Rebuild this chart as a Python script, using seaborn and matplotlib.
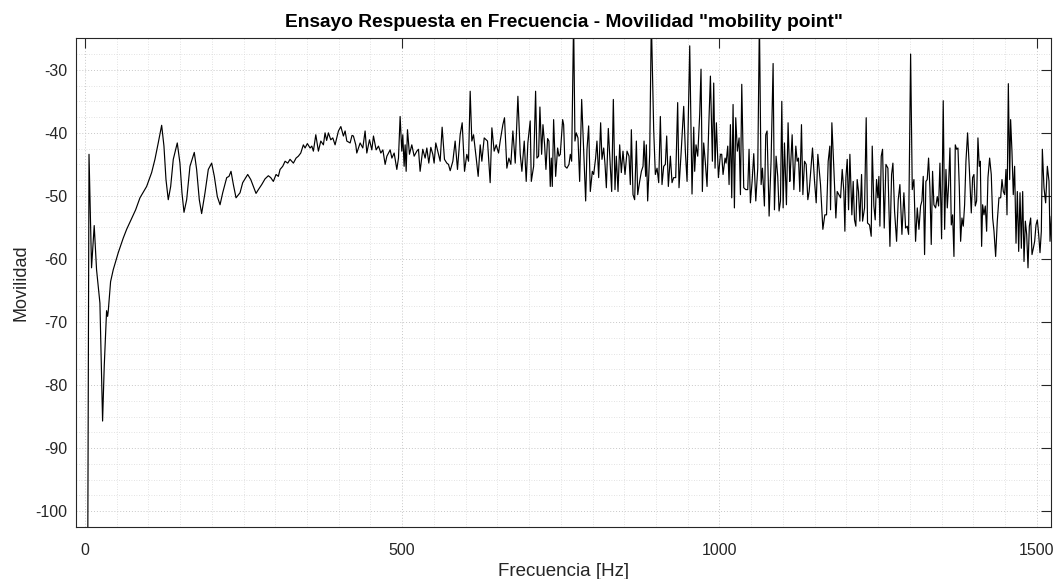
import numpy as np
import pandas as pd
import matplotlib
matplotlib.use("Agg")
import matplotlib.pyplot as plt
import seaborn as sns
from matplotlib.ticker import MultipleLocator

# ---------------- data ----------------
freq_low = [3.5, 6.5, 10.5, 14.7, 18.4, 23.7, 27.9, 30.5, 34.2, 35.8, 36.8, 40.5, 44.7, 52.6,
            60.4, 65.8, 72.6, 80.0, 86.8, 97.3, 105.2, 110.4, 115.6, 121.0, 124.6, 127.8, 131.4,
            135.2, 139.3, 145.6, 149.8, 153.0, 156.2, 160.4, 165.6, 172.4, 176.1, 180.3, 184.0,
            189.3, 194.5, 199.8, 204.0, 208.7, 213.0, 217.2, 223.5, 227.1, 230.3, 234.0, 238.2,
            244.5, 248.7, 256.6, 261.4, 265.5, 269.7, 273.4, 278.7, 283.9, 289.1, 292.9, 297.0]
mob_low = [-140.0, -43.4, -61.4, -54.7, -61.7, -67.0, -85.7, -77.0, -68.2, -69.1, -68.3, -63.6,
           -61.7, -59.0, -56.7, -55.3, -53.8, -52.2, -50.3, -48.5, -46.3, -44.2, -41.6, -38.8,
           -42.1, -47.4, -50.6, -48.5, -44.2, -41.6, -44.8, -49.5, -52.6, -50.6, -45.3, -43.1,
           -45.8, -50.6, -52.8, -49.5, -45.8, -44.8, -46.9, -50.1, -51.4, -49.5, -47.1, -46.9,
           -46.1, -48.2, -50.3, -49.5, -47.9, -46.6, -47.4, -48.5, -49.6, -49.0, -48.2, -47.3,
           -46.8, -47.1, -47.7]

freq_mid = [301.3, 304.9, 307.6, 311.8, 315.5, 319.7, 323.3, 328.6, 332.8, 336.4, 340.2, 344.3,
            347.0, 350.6, 354.9, 357.6, 360.1, 363.9, 368.0, 371.8, 375.9, 378.5, 381.0, 383.8,
            387.5, 390.7, 394.3, 399.6, 403.4, 407.4, 410.1, 412.8, 418.0, 421.0, 423.2, 426.9,
            428.5, 433.8, 438.0, 441.6, 444.3, 448.5, 452.2, 454.8, 459.0, 462.7, 466.4, 469.6,
            473.2, 475.9, 481.1, 483.8, 487.4, 491.6, 494.2]
mob_mid = [-46.6, -46.9, -45.8, -45.3, -44.5, -44.8, -44.2, -44.8, -44.0, -43.7, -43.2, -41.9,
           -42.4, -41.7, -42.4, -42.1, -42.9, -40.3, -42.9, -41.3, -41.9, -40.0, -41.2, -40.0,
           -41.1, -40.8, -41.9, -39.7, -39.0, -40.5, -39.7, -41.3, -41.6, -40.4, -40.5, -41.9,
           -43.2, -41.6, -42.4, -39.7, -43.2, -41.1, -42.7, -40.5, -42.7, -42.1, -43.2, -42.7,
           -45.0, -43.7, -42.7, -44.0, -43.2, -45.8, -44.0]

freq_a = [496.8, 499.4, 501.0, 503.1, 504.7, 506.3, 508.4, 511.5, 515.2, 518.9, 523.1, 525.7,
          528.3, 532.5, 536.2, 538.9, 542.0, 545.2, 548.3, 550.4, 553.0, 557.3, 559.9, 563.0,
          566.7, 570.4, 573.0, 575.7, 579.9, 583.5, 587.2, 591.4, 594.6, 598.3, 601.9, 604.6,
          607.2, 609.8, 612.5, 616.7, 619.8, 623.0, 625.6, 629.3, 634.5, 638.7, 641.4, 645.0,
          648.2, 651.9, 654.5, 658.7, 661.3, 665.0, 668.2, 671.3, 674.5, 678.2, 682.4, 686.1,
          688.7, 692.4, 695.5, 698.1, 701.8]
mob_a = [-37.4, -42.9, -40.3, -45.3, -41.9, -46.1, -39.5, -43.4, -41.9, -43.7, -42.9, -42.6,
         -46.1, -42.6, -44.0, -42.4, -44.8, -42.3, -43.4, -44.8, -41.6, -43.4, -44.5, -39.1,
         -44.2, -44.8, -45.0, -46.0, -44.5, -41.3, -45.8, -40.3, -38.4, -46.1, -43.4, -44.5,
         -33.4, -41.3, -40.3, -44.0, -46.9, -41.9, -44.5, -40.8, -41.3, -47.9, -39.2, -42.9,
         -41.9, -43.2, -41.3, -38.7, -37.6, -45.6, -44.0, -45.0, -39.7, -44.8, -34.2, -43.4,
         -46.1, -41.3, -47.7, -41.6, -38.1]

freq_b = [703.5, 707.2, 710.3, 712.4, 715.0, 717.1, 719.8, 721.9, 724.5, 726.6, 729.2, 731.3,
          733.4, 735.0, 736.6, 738.7, 741.9, 745.0, 747.1, 749.2, 752.9, 754.5, 756.6, 759.7,
          762.9, 765.0, 767.1, 770.2, 772.3, 774.4, 777.1, 779.7, 782.9, 786.0, 789.2, 791.3,
          793.9, 796.5, 799.7, 801.8, 804.9, 807.0, 809.7, 812.8, 814.9, 817.6, 819.7, 821.8,
          824.9, 827.0, 830.2, 832.8, 835.4, 837.5, 840.2, 842.8, 845.4, 848.0, 851.2, 854.4,
          857.5, 859.6, 861.2, 863.8, 866.4, 869.1, 871.2, 874.3, 877.0, 879.6, 881.2, 883.8,
          884.8, 886.9, 890.1, 892.7, 896.4, 899.0, 901.7, 904.3, 906.9]
mob_b = [-47.7, -45.3, -33.4, -44.0, -43.7, -35.9, -43.4, -38.7, -41.9, -45.8, -40.9, -41.3,
         -48.5, -44.0, -48.5, -37.9, -46.9, -42.4, -43.7, -43.4, -37.9, -38.7, -45.3, -45.6,
         -45.0, -43.4, -44.5, -22.0, -41.3, -40.0, -40.8, -47.7, -34.7, -42.6, -50.8, -42.6,
         -38.9, -49.3, -46.1, -46.6, -44.0, -41.3, -47.1, -38.4, -44.2, -42.4, -45.0, -48.7,
         -39.3, -43.4, -49.3, -34.7, -49.0, -43.7, -49.3, -41.9, -46.3, -42.9, -46.6, -42.9,
         -43.7, -48.2, -39.5, -49.8, -50.6, -41.3, -49.8, -47.7, -46.1, -45.3, -41.3, -46.9,
         -41.9, -50.8, -43.4, -22.0, -39.5, -46.6, -45.6, -47.9, -37.4]

freq_c = [909.5, 912.2, 914.8, 916.9, 919.5, 922.7, 925.3, 927.9, 931.1, 934.2, 936.3, 939.5,
          943.7, 946.3, 949.0, 953.2, 956.8, 959.5, 961.0, 963.1, 965.8, 968.9, 971.0, 973.1,
          975.2, 977.9, 980.5, 983.1, 985.8, 988.9, 991.0, 993.1, 995.2, 998.4, 1001.5, 1003.6,
          1005.7, 1008.9, 1010.5, 1013.1, 1015.2, 1017.3, 1019.4, 1021.5, 1023.6, 1025.7,
          1028.3, 1031.0, 1033.1, 1035.2, 1038.3, 1041.5, 1044.6, 1046.7, 1048.8, 1051.5,
          1054.1, 1057.3, 1060.4, 1063.0, 1065.7, 1067.8, 1070.9, 1073.0, 1075.1, 1078.3,
          1081.4, 1084.6, 1086.7, 1089.3, 1091.9, 1094.0, 1096.2, 1098.3, 1100.4, 1102.5,
          1105.6, 1108.2, 1110.9]
mob_c = [-48.2, -45.3, -45.0, -40.5, -48.5, -43.7, -47.9, -47.1, -47.1, -35.2, -48.7, -43.4,
         -35.8, -42.9, -47.7, -26.2, -49.7, -39.1, -46.1, -41.9, -43.7, -37.1, -29.9, -49.3,
         -41.6, -44.8, -48.5, -39.2, -31.0, -44.5, -32.1, -45.6, -38.4, -47.1, -43.4, -43.4,
         -46.6, -44.0, -44.8, -42.1, -48.2, -38.7, -50.3, -35.5, -51.9, -37.6, -42.9, -40.8,
         -49.8, -32.3, -48.7, -49.0, -49.0, -42.6, -51.1, -47.7, -43.3, -50.8, -45.6, -22.0,
         -48.2, -45.6, -51.6, -40.3, -39.7, -53.2, -44.5, -29.0, -52.2, -43.7, -46.9, -52.4,
         -50.8, -35.0, -51.9, -41.6, -51.4, -38.4, -47.7]

freq_d = [1112.0, 1114.6, 1117.3, 1120.4, 1122.5, 1124.6, 1126.7, 1129.3, 1131.5, 1134.1,
          1136.7, 1139.3, 1141.4, 1143.5, 1146.7, 1149.9, 1152.5, 1155.1, 1159.3, 1163.0,
          1166.1, 1168.8, 1171.4, 1174.0, 1175.1, 1177.2, 1180.3, 1183.5, 1185.6, 1188.2,
          1190.9, 1193.5, 1196.1, 1197.7, 1199.3, 1201.4, 1203.5, 1205.6, 1208.7, 1210.8,
          1212.9, 1215.0, 1217.1, 1219.2, 1221.3, 1224.0, 1225.6, 1228.7, 1231.3, 1233.4,
          1236.6, 1239.2, 1240.8, 1243.4, 1245.5, 1247.6, 1249.7, 1251.3, 1252.9, 1255.0,
          1257.1, 1259.7, 1262.4, 1265.5, 1268.7, 1271.3, 1273.4, 1276.0, 1279.2, 1281.8,
          1284.4, 1287.6, 1290.7, 1293.4, 1296.0, 1298.1, 1301.3, 1303.9, 1306.5, 1309.1,
          1311.8, 1314.4, 1317.0]
mob_d = [-45.6, -40.3, -49.0, -42.1, -44.5, -44.0, -49.3, -38.7, -49.8, -44.5, -45.0, -50.6,
         -49.3, -46.6, -42.4, -47.7, -51.1, -43.4, -48.2, -55.3, -53.0, -53.0, -44.5, -42.1,
         -52.2, -38.4, -45.6, -53.5, -49.3, -49.8, -50.3, -45.8, -49.3, -55.6, -47.1, -44.2,
         -52.2, -43.4, -53.0, -47.7, -53.8, -54.8, -47.4, -49.3, -54.0, -46.6, -54.0, -51.9,
         -37.6, -54.3, -54.6, -56.4, -42.1, -51.6, -53.8, -47.4, -50.3, -46.9, -54.8, -43.7,
         -42.6, -55.1, -45.0, -45.6, -58.0, -46.6, -44.8, -52.4, -57.2, -50.6, -48.2, -56.1,
         -49.5, -55.1, -54.8, -56.1, -27.5, -49.0, -47.4, -57.2, -51.9, -55.3, -51.6]

freq_e = [1319.1, 1321.2, 1323.3, 1325.4, 1327.5, 1329.6, 1331.7, 1333.8, 1335.9, 1338.0,
          1340.7, 1343.3, 1345.4, 1347.5, 1350.1, 1352.7, 1354.9, 1357.0, 1359.1, 1361.2,
          1363.3, 1365.4, 1367.5, 1369.6, 1371.7, 1373.8, 1375.9, 1378.0, 1380.1, 1382.2,
          1384.3, 1386.4, 1388.5, 1391.1, 1393.8, 1396.9, 1399.0, 1401.1, 1403.2, 1405.3,
          1407.4, 1409.5, 1411.1, 1413.2, 1414.8, 1416.9, 1419.0, 1421.1, 1423.2, 1425.8,
          1428.4, 1430.6, 1432.7, 1435.3, 1437.9, 1440.5, 1443.2, 1445.3, 1447.4, 1449.5,
          1451.6, 1453.2, 1455.3, 1457.4, 1458.9, 1461.0, 1463.1, 1465.2, 1467.4, 1469.5,
          1471.6, 1473.7, 1475.8, 1477.9, 1480.0, 1482.1, 1484.2, 1486.3, 1488.4, 1490.5,
          1492.6, 1494.7, 1496.8, 1498.9, 1501.0, 1503.1, 1505.2, 1507.3, 1508.9, 1511.5,
          1514.1, 1516.8, 1519.4, 1521.0, 1523.1]
mob_e = [-50.8, -46.9, -59.3, -47.7, -47.4, -44.0, -48.7, -57.7, -46.1, -51.4, -51.9, -50.1,
         -51.6, -44.8, -56.8, -34.9, -55.3, -45.8, -51.9, -48.2, -42.4, -54.6, -53.0, -59.6,
         -41.9, -42.6, -42.4, -48.5, -57.2, -53.5, -54.8, -51.4, -44.5, -40.0, -45.6, -52.7,
         -47.1, -46.6, -51.6, -50.8, -40.8, -45.3, -44.5, -58.0, -51.4, -53.0, -51.6, -55.6,
         -47.1, -44.0, -46.6, -53.5, -55.6, -59.6, -54.0, -50.3, -50.3, -47.4, -49.3, -49.8,
         -45.8, -53.0, -32.2, -47.4, -37.9, -42.9, -49.8, -45.3, -57.5, -49.3, -58.8, -49.5,
         -58.3, -49.3, -60.4, -54.0, -56.1, -61.4, -54.8, -53.5, -59.3, -58.3, -57.2, -54.6,
         -53.8, -56.1, -59.0, -55.6, -42.6, -48.7, -51.1, -45.3, -47.7, -57.2, -53.2]

x_ticks = [0, 500, 1000, 1500]
y_ticks = [-100, -90, -80, -70, -60, -50, -40, -30]

freq = freq_low + freq_mid + freq_a + freq_b + freq_c + freq_d + freq_e
mob = mob_low + mob_mid + mob_a + mob_b + mob_c + mob_d + mob_e
df = pd.DataFrame({"Frecuencia [Hz]": freq, "Movilidad": mob})

# ---------------- plot ----------------
sns.set_theme(style="white")
plt.rcParams["font.family"] = ["Liberation Sans", "DejaVu Sans"]
plt.rcParams["axes.unicode_minus"] = False

fig = plt.figure(figsize=(10.57, 5.79), dpi=100)
ax = fig.add_axes([0.0716, 0.0893, 0.9230, 0.8446])

sns.lineplot(data=df, x="Frecuencia [Hz]", y="Movilidad", estimator=None, sort=False,
             color="black", linewidth=0.85, ax=ax)

ax.set_xlim(-14.5, 1523)
ax.set_ylim(-102.55, -25)
ax.set_xticks(x_ticks)
ax.set_yticks(y_ticks)
ax.xaxis.set_minor_locator(MultipleLocator(50))
ax.yaxis.set_minor_locator(MultipleLocator(2.5))

ax.grid(which="major", color="#c8c8c8", linestyle=(0, (1, 2)), linewidth=0.7)
ax.grid(which="minor", color="#d9d9d9", linestyle=(0, (1, 2)), linewidth=0.6)
ax.set_axisbelow(True)

ax.tick_params(which="major", direction="in", length=7, width=0.8, colors="#262626",
               labelsize=11.5, top=True, right=True, pad=6)
ax.tick_params(axis="x", which="major", pad=11)
ax.tick_params(which="minor", length=0, top=False, right=False)
for s in ax.spines.values():
    s.set_color("#262626")
    s.set_linewidth(0.8)

ax.set_xlabel("Frecuencia [Hz]", fontsize=13.5, color="#262626", labelpad=4)
ax.set_ylabel("Movilidad", fontsize=13.0, color="#262626", labelpad=4)
ax.set_title('Ensayo Respuesta en Frecuencia - Movilidad "mobility point"',
             fontsize=13.8, fontweight="bold", color="black", pad=8)

fig.savefig("out.png", dpi=100)
